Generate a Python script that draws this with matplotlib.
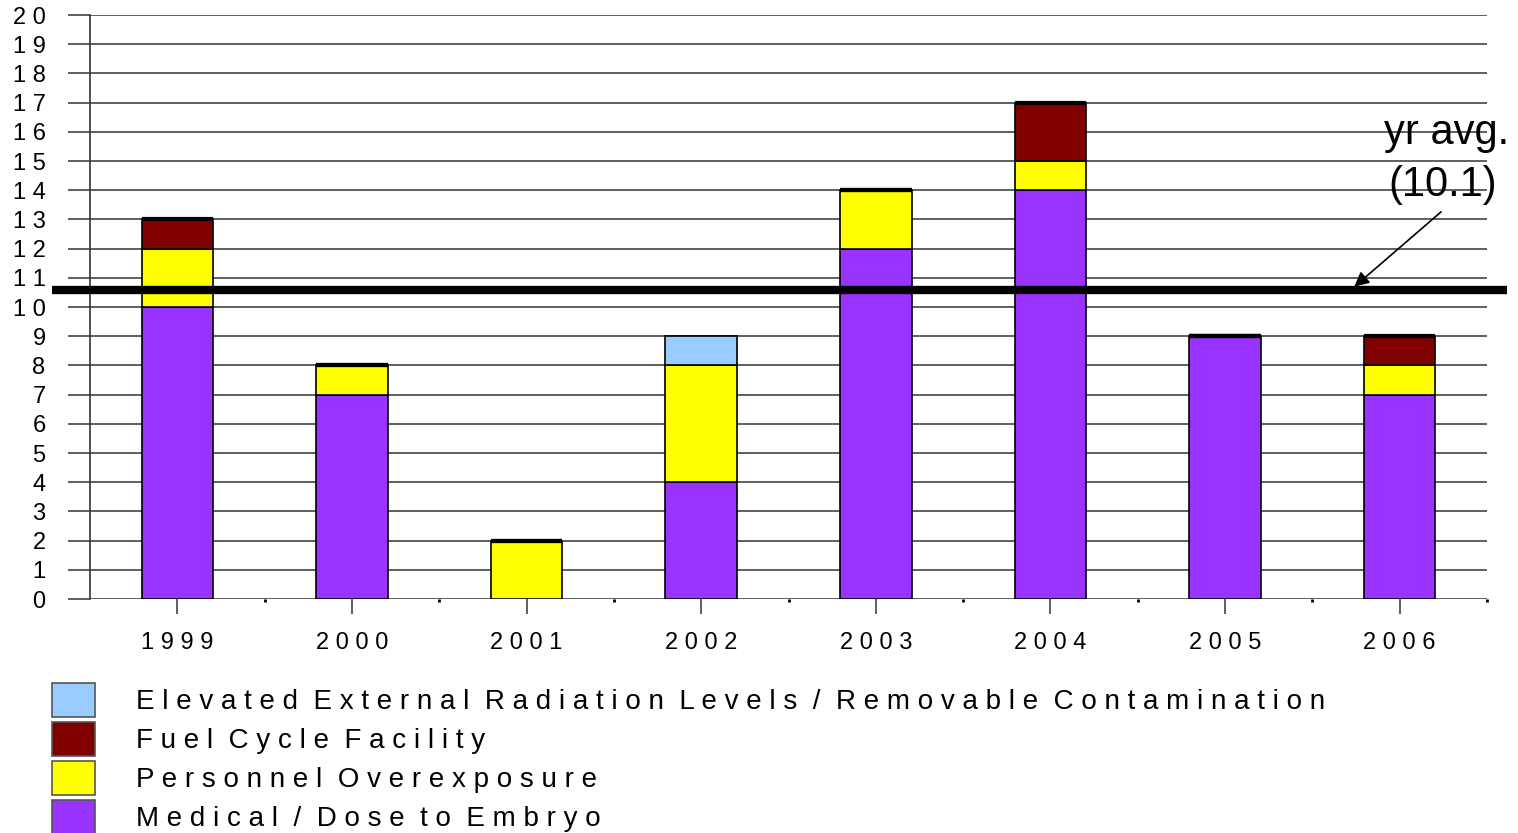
import matplotlib
matplotlib.use("Agg")
import matplotlib.pyplot as plt
from matplotlib.patches import Patch
import numpy as np

plt.rcParams['font.family'] = ['Liberation Sans', 'DejaVu Sans']

# data
years = ['1999', '2000', '2001', '2002', '2003', '2004', '2005', '2006']
medical = [10, 7, 0, 4, 12, 14, 9, 7]
personnel = [2, 1, 2, 4, 2, 1, 0, 1]
fuel = [1, 0, 0, 0, 0, 2, 0, 1]
elevated = [0, 0, 0, 1, 0, 0, 0, 0]
avg_level = 10.58
avg_label = '(10.1)'

series_names = ['Medical / Dose to Embryo', 'Personnel Overexposure',
                'Fuel Cycle Facility',
                'Elevated External Radiation Levels / Removable Contamination']
series_colors = ['#9933FF', '#FFFF00', '#800000', '#99CCFF']


def spaced(s, sep=' ', word='  '):
    # wide letter tracking like the original
    return word.join(sep.join(w) for w in s.split(' '))


fig = plt.figure(figsize=(15.18, 8.33), dpi=100)
ax = fig.add_axes([90 / 1518, 1 - 599 / 833, 1397 / 1518, 584 / 833])

x = np.arange(len(years))
totals = np.array(medical) + np.array(personnel) + np.array(fuel) + np.array(elevated)
bottom = np.zeros(len(years))
for vals, col in zip([medical, personnel, fuel, elevated], series_colors):
    # empty segments sitting on top of a stack leave a heavy cap line
    lws = [3 if (v == 0 and b == t) else 1.2 for v, b, t in zip(vals, bottom, totals)]
    ax.bar(x, vals, width=0.41, bottom=bottom, color=col,
           edgecolor='black', linewidth=lws, zorder=3)
    bottom += np.array(vals)

ax.set_xlim(-0.5, 7.5)
ax.set_ylim(0, 20)
ax.set_yticks(range(0, 21))
ax.set_yticklabels([spaced(str(v)) for v in range(0, 21)], fontsize=17)
ax.set_xticks(x)
ax.set_xticklabels([spaced(y) for y in years], fontsize=17)
ax.set_xticks(x + 0.5, minor=True)

ax.grid(axis='y', color='#444444', linewidth=1.2, zorder=0)
ax.tick_params(axis='y', length=16, width=1.2, color='#444444', pad=16)
ax.tick_params(axis='x', which='major', length=11, width=1.2, color='#444444', pad=13)
ax.tick_params(axis='x', which='minor', length=2, width=2, color='black')
for side in ['top', 'right', 'bottom']:
    ax.spines[side].set_visible(False)
ax.spines['left'].set_color('#333333')
ax.spines['left'].set_linewidth(1.2)

# average line runs past the plot edges
ax.plot([-0.718, 7.616], [avg_level, avg_level], color='black',
        linewidth=6, solid_capstyle='butt', clip_on=False, zorder=5)
ax.annotate('', xy=(6.728, avg_level + 0.05), xytext=(7.249, 13.32),
            arrowprops=dict(arrowstyle='-|>', color='black', lw=1.2,
                            mutation_scale=22),
            annotation_clip=False, zorder=6)
ax.text(7.625, 15.96, 'yr avg.', fontsize=30, ha='right', va='center',
        clip_on=False, zorder=6)
ax.text(7.249, 14.18, avg_label, fontsize=30, ha='center', va='center',
        clip_on=False, zorder=6)

handles = [Patch(facecolor=c, edgecolor='#555555', linewidth=1.2)
           for c in series_colors[::-1]]
labels = [spaced(n) for n in series_names[::-1]]
fig.legend(handles, labels, loc='upper left',
           bbox_to_anchor=(52 / 1518, 1 - 683 / 833), borderaxespad=0,
           borderpad=0, frameon=False, fontsize=20,
           handlelength=1.55, handleheight=1.5, handletextpad=1.47,
           labelspacing=0.18)

fig.savefig('out.png', dpi=100)
